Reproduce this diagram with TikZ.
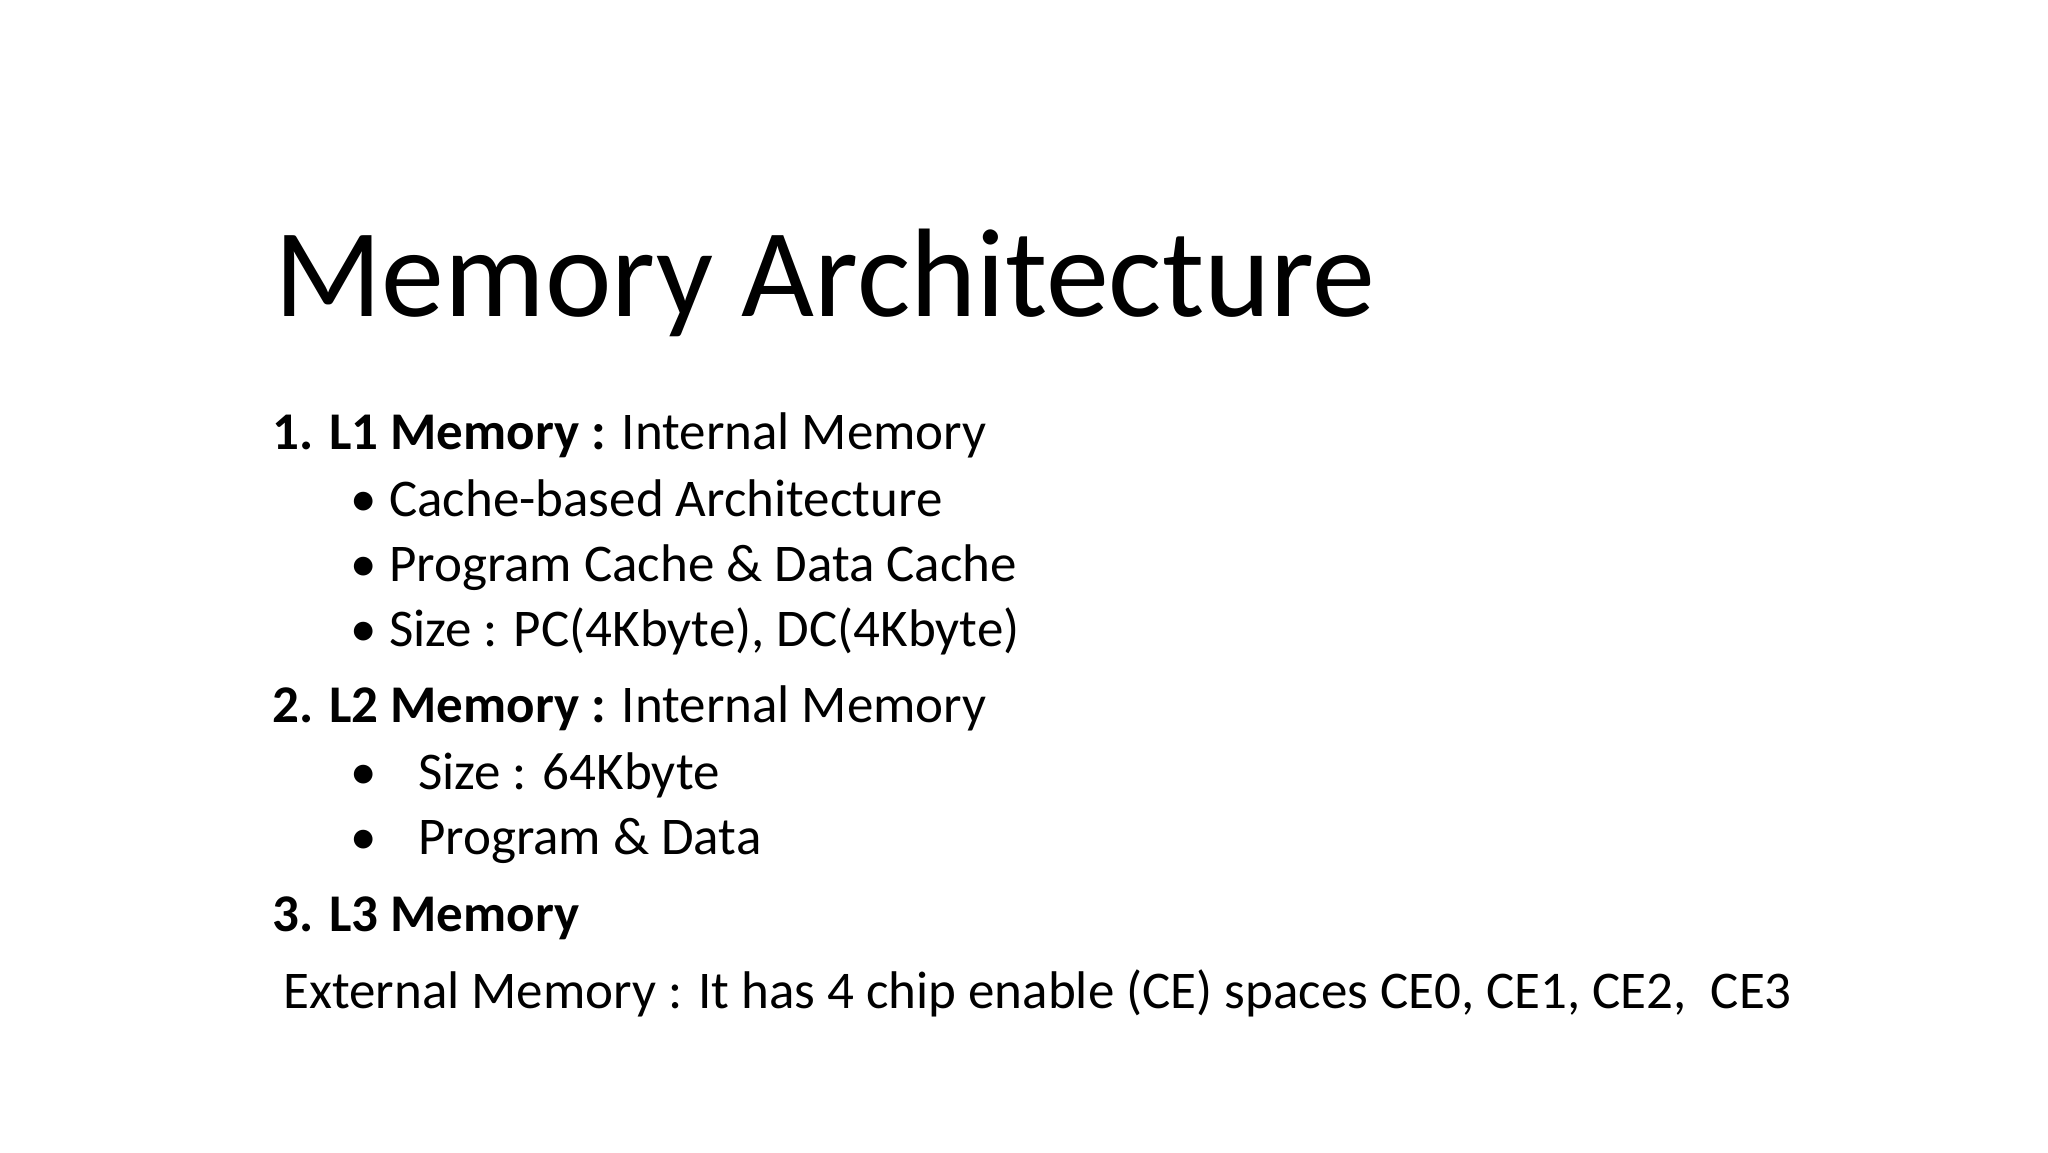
\documentclass[tikz,border=0pt]{standalone}
\usepackage{fontspec}
\setmainfont{Carlito}
\begin{document}
\begin{tikzpicture}[x=1pt,y=-1pt,
  txt/.style={anchor=base west,inner sep=0pt,font=\fontsize{53}{60}\selectfont},
  ttl/.style={anchor=base west,inner sep=0pt,font=\fontsize{126}{140}\selectfont}]
\useasboundingbox[fill=white] (0,0) rectangle (2048,1152);
\node[ttl] (title) at (274,316) {Memory Architecture};
\node[txt] (l1) at (272,449) {\textbf{1. L1 Memory :} Internal Memory};
\node[txt] (b1) at (350,516) {\textbullet};
\node[txt] (t1) at (389,516) {Cache-based Architecture};
\node[txt] (b2) at (350,581) {\textbullet};
\node[txt] (t2) at (389,581) {Program Cache \& Data Cache};
\node[txt] (b3) at (350,646) {\textbullet};
\node[txt] (t3) at (389,646) {Size : PC(4Kbyte), DC(4Kbyte)};
\node[txt] (l2) at (272,722) {\textbf{2. L2 Memory :} Internal Memory};
\node[txt] (b4) at (350,789) {\textbullet};
\node[txt] (t4) at (418,789) {Size : 64Kbyte};
\node[txt] (b5) at (350,854) {\textbullet};
\node[txt] (t5) at (418,854) {Program \& Data};
\node[txt] (l3) at (272,931) {\textbf{3. L3 Memory}};
\node[txt] (ext) at (283,1008) {External Memory : It has 4 chip enable (CE) spaces CE0, CE1, CE2,\ \ CE3};
\end{tikzpicture}
\end{document}
